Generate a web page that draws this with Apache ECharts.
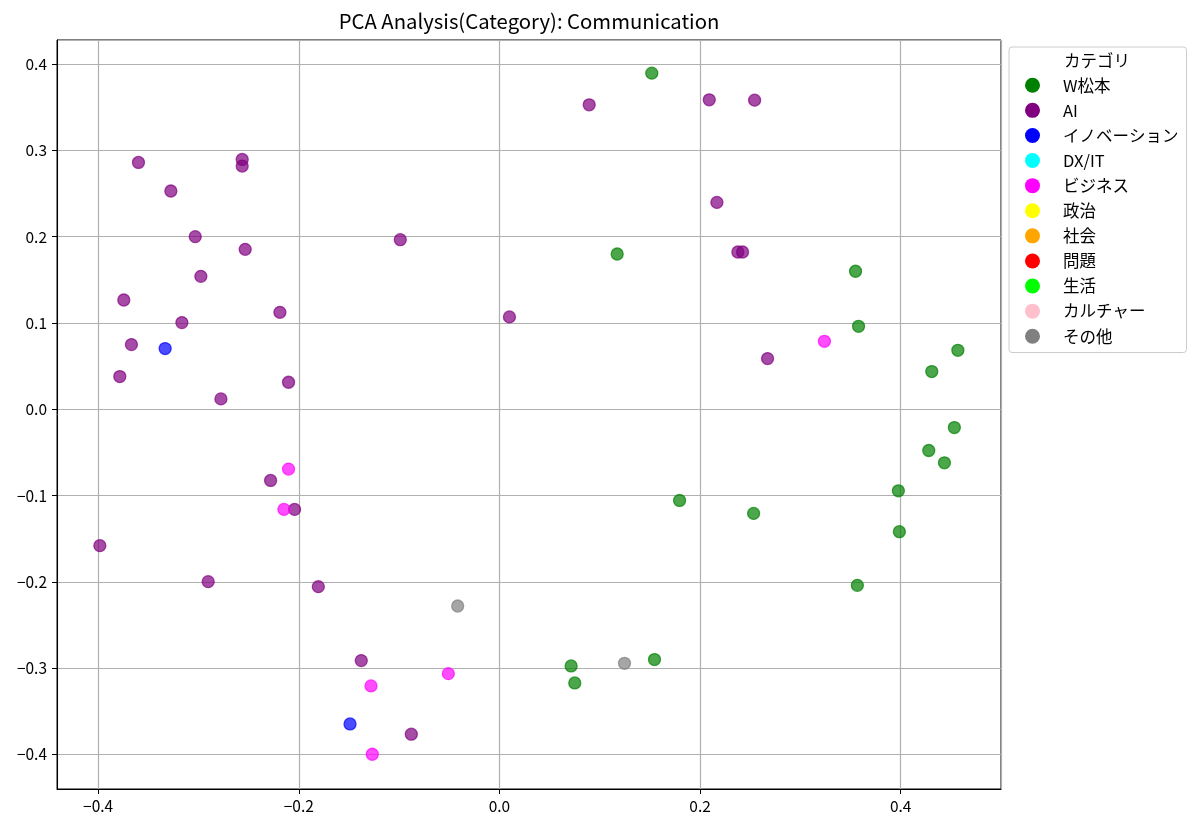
<!DOCTYPE html>
<html><head><meta charset="utf-8">
<script src="https://cdn.jsdelivr.net/npm/echarts@6/dist/echarts.min.js"></script>
<style>html,body{margin:0;padding:0;background:#fff}#c{width:1200px;height:829px}</style>
</head><body><div id="c"></div>
<script>
const chartTitle = 'PCA Analysis(Category): Communication';
const legendTitle = 'カテゴリ';
const categories = ['W松本','AI','イノベーション','DX/IT','ビジネス','政治','社会','問題','生活','カルチャー','その他'];
const categoryColors = ['#008000','#800080','#0000ff','#00ffff','#ff00ff','#ffff00','#ffa500','#ff0000','#00ff00','#ffc0cb','#808080'];

const wMatsumotoPoints = [
  [0.1519,0.3896],[0.1174,0.1800],[0.355,0.160],[0.358,0.0962],[0.457,0.0684],[0.431,0.0438],
  [0.4535,-0.0211],[0.428,-0.0477],[0.4436,-0.0620],[0.3977,-0.0944],[0.3987,-0.1418],[0.3568,-0.204],
  [0.1796,-0.1056],[0.2534,-0.1206],[0.0715,-0.2974],[0.0751,-0.3171],[0.1546,-0.290]
];
const aiPoints = [
  [0.0895,0.3529],[0.2092,0.3587],[0.2544,0.3583],[0.2168,0.2398],[0.2377,0.1823],[0.2424,0.1823],
  [0.2673,0.0588],[-0.0988,0.1966],[0.0100,0.1071],
  [-0.3598,0.2861],[-0.2564,0.2896],[-0.2564,0.2819],[-0.3275,0.2530],[-0.3032,0.2001],[-0.2534,0.1854],
  [-0.2976,0.1541],[-0.3744,0.1267],[-0.2188,0.1124],[-0.3165,0.1005],[-0.3668,0.0750],[-0.3784,0.0380],
  [-0.2102,0.0314],[-0.2776,0.0121],
  [-0.2281,-0.0824],[-0.2042,-0.1160],[-0.3983,-0.1580],[-0.2903,-0.1997],[-0.1805,-0.2055],
  [-0.1377,-0.2912],[-0.0878,-0.3765]
];
const innovationPoints = [[-0.3332,0.0704],[-0.1489,-0.3646]];
const dxItPoints = [];
const businessPoints = [[0.324,0.0788],[-0.2102,-0.0693],[-0.2148,-0.1160],[-0.0509,-0.3063],[-0.1280,-0.3205],[-0.1267,-0.3997]];
const politicsPoints = [];
const societyPoints = [];
const problemPoints = [];
const lifePoints = [];
const culturePoints = [];
const otherPoints = [[0.1247,-0.2943],[-0.0416,-0.2279]];

const categoryPoints = [wMatsumotoPoints, aiPoints, innovationPoints, dxItPoints, businessPoints,
  politicsPoints, societyPoints, problemPoints, lifePoints, culturePoints, otherPoints];

const xMin = -0.441, xMax = 0.5, xStep = 0.2;
const yMin = -0.44, yMax = 0.428, yStep = 0.1;

function rgba(hex, a) {
  const n = parseInt(hex.slice(1), 16);
  return 'rgba(' + ((n >> 16) & 255) + ',' + ((n >> 8) & 255) + ',' + (n & 255) + ',' + a + ')';
}
const FONT = '"Noto Sans CJK JP", "Noto Sans", sans-serif';
const fmt = v => v.toFixed(1).replace('-', '\u2212');

const chart = echarts.init(document.getElementById('c'));
chart.setOption({
  animation: false,
  backgroundColor: '#fff',
  textStyle: { fontFamily: FONT },
  grid: { left: 57, top: 40, right: 199, bottom: 40, show: true, borderColor: '#000', borderWidth: 1, backgroundColor: 'transparent' },
  xAxis: {
    type: 'value', min: xMin, max: xMax, minInterval: xStep, maxInterval: xStep,
    axisLine: { show: true, onZero: false, lineStyle: { color: '#000', width: 1 } },
    axisTick: { show: true, length: 5, lineStyle: { color: '#000' } },
    axisLabel: { color: '#000', fontSize: 15.5, fontFamily: FONT, margin: 9, formatter: fmt, showMinLabel: false, showMaxLabel: false },
    splitLine: { show: true, lineStyle: { color: '#b0b0b0', width: 1.2 } }
  },
  yAxis: {
    type: 'value', min: yMin, max: yMax, minInterval: yStep, maxInterval: yStep,
    axisLine: { show: true, onZero: false, lineStyle: { color: '#000', width: 1 } },
    axisTick: { show: true, length: 5, lineStyle: { color: '#000' } },
    axisLabel: { color: '#000', fontSize: 15.5, fontFamily: FONT, margin: 10, formatter: fmt, showMinLabel: false, showMaxLabel: false },
    splitLine: { show: true, lineStyle: { color: '#b0b0b0', width: 1.2 } }
  },
  legend: {
    orient: 'vertical', left: 1009, top: 47,
    padding: [30, 8, 8, 16], itemGap: 8.6, itemWidth: 15, itemHeight: 15,
    borderColor: '#cccccc', borderWidth: 1, borderRadius: 3, backgroundColor: '#fff',
    textStyle: { fontSize: 16.5, fontFamily: FONT, color: '#000', padding: [0, 0, 0, 18], lineHeight: 15 },
    data: categories.map((name, i) => ({ name, icon: 'circle', itemStyle: { color: categoryColors[i], borderWidth: 0, opacity: 1 } }))
  },
  graphic: [
    { type: 'text', x: 529, y: 21, style: { text: chartTitle, textAlign: 'center', textVerticalAlign: 'middle', font: '20.3px ' + FONT, fill: '#000' } },
    { type: 'text', x: 1097, y: 61, z: 100, style: { text: legendTitle, textAlign: 'center', textVerticalAlign: 'middle', font: '16.5px ' + FONT, fill: '#000' } }
  ],
  series: categories.map((name, i) => ({
    name, type: 'scatter', data: categoryPoints[i], symbol: 'circle', symbolSize: 12,
    itemStyle: { color: rgba(categoryColors[i], 0.7), borderColor: rgba(categoryColors[i], 0.7), borderWidth: 1.3, opacity: 1 },
    emphasis: { disabled: true }
  }))
});
</script>
</body></html>
